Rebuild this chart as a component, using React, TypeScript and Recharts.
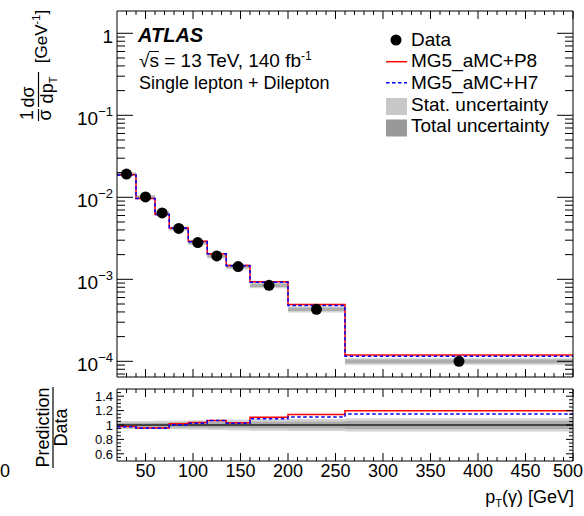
import React from 'react';
import { ComposedChart, Line, XAxis, YAxis, ReferenceArea, ReferenceLine } from 'recharts';

// photon pT bins [GeV]
const binEdges = [20, 40, 60, 75, 95, 115, 135, 160, 200, 260, 500];
const binCentres = [30, 50, 67.5, 85, 105, 125, 147.5, 180, 230, 380];
// normalised differential cross-section 1/σ dσ/dpT [GeV^-1]
const dataValues = [0.0192, 0.0101, 0.00645, 0.00417, 0.00281, 0.00193, 0.00143, 0.000845, 0.000431, 0.0001];
// prediction / data
const ratioP8 = [0.978, 0.958, 0.958, 1.016, 1.033, 1.064, 1.03, 1.106, 1.147, 1.198];
const ratioH7 = [0.975, 0.955, 0.955, 1.004, 1.024, 1.062, 1.026, 1.088, 1.11, 1.152];
// relative uncertainties of the data
const statUnc = [0.03, 0.03, 0.03, 0.035, 0.035, 0.04, 0.04, 0.045, 0.05, 0.055];
const totalUnc = [0.055, 0.055, 0.06, 0.06, 0.065, 0.07, 0.075, 0.08, 0.085, 0.09];

const xMajorTicks = [50, 100, 150, 200, 250, 300, 350, 400, 450, 500];
const ratioMajorTicks = [0.6, 0.8, 1, 1.2, 1.4];

const FONT = "'Liberation Sans', Arial, Helvetica, sans-serif";
const W = 584;
const PL = 117;
const PR = 573;
const MAIN_H = 380;
const MAIN_TOP = 11;
const MAIN_BOTTOM = 377;
const RATIO_Y0 = 380;
const RATIO_H = 136;
const RATIO_TOP = 9;
const RATIO_BOTTOM = 81;
const AX = 1; // thickness reserved for each axis

const X_DOMAIN: [number, number] = [20, 500];
const MAIN_DOMAIN: [number, number] = [6.44e-5, 1.87];
const RATIO_DOMAIN: [number, number] = [0.5, 1.5];

const n = dataValues.length;

// tick positions
const xTicks: number[] = [];
for (let v = 30; v <= 500; v += 10) xTicks.push(v);
const logTicks: number[] = [];
for (let k = -5; k <= 0; k++) {
  for (let m = 1; m <= 9; m++) {
    const v = Number((m * Math.pow(10, k)).toPrecision(6));
    if (v >= MAIN_DOMAIN[0] && v <= MAIN_DOMAIN[1]) logTicks.push(v);
  }
}
const ratioTicks: number[] = [];
for (let i = 11; i <= 29; i++) ratioTicks.push(Math.round(i * 5) / 100);

const isXMajor = (v: number) => xMajorTicks.includes(v);
const isLogMajor = (v: number) => Math.abs(Math.log10(v) - Math.round(Math.log10(v))) < 1e-6;
const isRatioMajor = (v: number) => Math.abs(v * 5 - Math.round(v * 5)) < 1e-6;

// series built from the tables above
const stepSeries = (f: (i: number) => number) =>
  binEdges.map((x, i) => ({ x, y: f(Math.min(i, n - 1)) }));
const mainP8 = stepSeries((i) => dataValues[i] * ratioP8[i]);
const mainH7 = stepSeries((i) => dataValues[i] * ratioH7[i]);
const ratioLineP8 = stepSeries((i) => ratioP8[i]);
const ratioLineH7 = stepSeries((i) => ratioH7[i]);
const points = binCentres.map((x, i) => ({ x, y: dataValues[i] }));

const BAND_OUTER = '#d2d2d2';
const BAND_INNER = '#adadad';

const makeXTick = (edge: number, dir: number, showLabel: boolean, labelY = 0) => (p: any) => {
  const v = p.payload.value;
  const major = isXMajor(v);
  const last = v === X_DOMAIN[1];
  return (
    <g>
      <line x1={p.x} x2={p.x} y1={edge} y2={edge + dir * (major ? 8 : 4)} stroke="#000" strokeWidth={1} />
      {showLabel && major ? (
        <text
          x={last ? W - 1 : p.x}
          y={labelY}
          textAnchor={last ? 'end' : 'middle'}
          fontSize={18}
          fontFamily={FONT}
          fill="#000"
        >
          {v}
        </text>
      ) : null}
    </g>
  );
};

const logLabel = (v: number) => {
  const k = Math.round(Math.log10(v));
  if (k === 0) return '1';
  return (
    <>
      10
      <tspan dy={-9} fontSize={13}>
        {'\u2212' + String(-k)}
      </tspan>
    </>
  );
};

const makeLogTick = (edge: number, dir: number, showLabel: boolean) => (p: any) => {
  const v = p.payload.value;
  const major = isLogMajor(v);
  return (
    <g>
      <line x1={edge} x2={edge + dir * (major ? 16 : 8)} y1={p.y} y2={p.y} stroke="#000" strokeWidth={1} />
      {showLabel && major ? (
        <text x={113} y={p.y + 9.5} textAnchor="end" fontSize={19} fontFamily={FONT} fill="#000">
          {logLabel(v)}
        </text>
      ) : null}
    </g>
  );
};

const makeRatioTick = (edge: number, dir: number, showLabel: boolean) => (p: any) => {
  const v = p.payload.value;
  const major = isRatioMajor(v);
  const labelled = ratioMajorTicks.some((t) => Math.abs(t - v) < 1e-6);
  return (
    <g>
      <line x1={edge} x2={edge + dir * (major ? 7 : 4)} y1={p.y} y2={p.y} stroke="#000" strokeWidth={1} />
      {showLabel && labelled ? (
        <text x={113} y={p.y + 4.7} textAnchor="end" fontSize={13} fontFamily={FONT} fill="#000">
          {Math.abs(v - 1) < 1e-6 ? '1' : v.toFixed(1)}
        </text>
      ) : null}
    </g>
  );
};

const axisLine = { stroke: '#000', strokeWidth: 1 };

function MainPanel() {
  return (
    <ComposedChart
      width={W}
      height={MAIN_H}
      margin={{
        top: MAIN_TOP - AX,
        right: W - PR - AX,
        bottom: MAIN_H - MAIN_BOTTOM - AX,
        left: PL - AX,
      }}
    >
      <XAxis
        xAxisId="b"
        dataKey="x"
        type="number"
        domain={X_DOMAIN}
        allowDataOverflow
        ticks={xTicks}
        interval={0}
        height={AX}
        tickLine={false}
        axisLine={axisLine}
        tick={makeXTick(MAIN_BOTTOM, -1, false)}
      />
      <XAxis
        xAxisId="t"
        orientation="top"
        dataKey="x"
        type="number"
        domain={X_DOMAIN}
        allowDataOverflow
        ticks={xTicks}
        interval={0}
        height={AX}
        tickLine={false}
        axisLine={axisLine}
        tick={makeXTick(MAIN_TOP, 1, false)}
      />
      <YAxis
        yAxisId="l"
        dataKey="y"
        scale="log"
        type="number"
        domain={MAIN_DOMAIN}
        allowDataOverflow
        ticks={logTicks}
        interval={0}
        width={AX}
        tickLine={false}
        axisLine={axisLine}
        tick={makeLogTick(PL, 1, true)}
      />
      <YAxis
        yAxisId="r"
        orientation="right"
        dataKey="y"
        scale="log"
        type="number"
        domain={MAIN_DOMAIN}
        allowDataOverflow
        ticks={logTicks}
        interval={0}
        width={AX}
        tickLine={false}
        axisLine={axisLine}
        tick={makeLogTick(PR, -1, false)}
      />
      {dataValues.map((v, i) => (
        <ReferenceArea
          key={'tot' + i}
          xAxisId="b"
          yAxisId="l"
          x1={binEdges[i]}
          x2={binEdges[i + 1]}
          y1={v * (1 - totalUnc[i])}
          y2={v * (1 + totalUnc[i])}
          fill={BAND_OUTER}
          fillOpacity={1}
          stroke="none"
        />
      ))}
      {dataValues.map((v, i) => (
        <ReferenceArea
          key={'stat' + i}
          xAxisId="b"
          yAxisId="l"
          x1={binEdges[i]}
          x2={binEdges[i + 1]}
          y1={v * (1 - statUnc[i])}
          y2={v * (1 + statUnc[i])}
          fill={BAND_INNER}
          fillOpacity={1}
          stroke="none"
        />
      ))}
      <Line
        xAxisId="b"
        yAxisId="l"
        data={mainP8}
        dataKey="y"
        type="stepAfter"
        stroke="#ff0000"
        strokeWidth={1.5}
        dot={false}
        activeDot={false}
        isAnimationActive={false}
      />
      <Line
        xAxisId="b"
        yAxisId="l"
        data={mainH7}
        dataKey="y"
        type="stepAfter"
        stroke="#0000ff"
        strokeWidth={1.5}
        strokeDasharray="3.5 2.5"
        dot={false}
        activeDot={false}
        isAnimationActive={false}
      />
      <Line
        xAxisId="b"
        yAxisId="l"
        data={points}
        dataKey="y"
        stroke="none"
        dot={{ r: 5.5, fill: '#000', stroke: 'none' }}
        activeDot={false}
        isAnimationActive={false}
      />
    </ComposedChart>
  );
}

function RatioPanel() {
  return (
    <ComposedChart
      width={W}
      height={RATIO_H}
      margin={{
        top: RATIO_TOP - AX,
        right: W - PR - AX,
        bottom: RATIO_H - RATIO_BOTTOM - AX,
        left: PL - AX,
      }}
    >
      <XAxis
        xAxisId="b"
        dataKey="x"
        type="number"
        domain={X_DOMAIN}
        allowDataOverflow
        ticks={xTicks}
        interval={0}
        height={AX}
        tickLine={false}
        axisLine={axisLine}
        tick={makeXTick(RATIO_BOTTOM, -1, true, RATIO_BOTTOM + 16)}
      />
      <XAxis
        xAxisId="t"
        orientation="top"
        dataKey="x"
        type="number"
        domain={X_DOMAIN}
        allowDataOverflow
        ticks={xTicks}
        interval={0}
        height={AX}
        tickLine={false}
        axisLine={axisLine}
        tick={makeXTick(RATIO_TOP, 1, false)}
      />
      <YAxis
        yAxisId="l"
        dataKey="y"
        type="number"
        domain={RATIO_DOMAIN}
        allowDataOverflow
        ticks={ratioTicks}
        interval={0}
        width={AX}
        tickLine={false}
        axisLine={axisLine}
        tick={makeRatioTick(PL, 1, true)}
      />
      <YAxis
        yAxisId="r"
        orientation="right"
        dataKey="y"
        type="number"
        domain={RATIO_DOMAIN}
        allowDataOverflow
        ticks={ratioTicks}
        interval={0}
        width={AX}
        tickLine={false}
        axisLine={axisLine}
        tick={makeRatioTick(PR, -1, false)}
      />
      {totalUnc.map((u, i) => (
        <ReferenceArea
          key={'rtot' + i}
          xAxisId="b"
          yAxisId="l"
          x1={binEdges[i]}
          x2={binEdges[i + 1]}
          y1={1 - u}
          y2={1 + u}
          fill={BAND_OUTER}
          fillOpacity={1}
          stroke="none"
        />
      ))}
      {statUnc.map((u, i) => (
        <ReferenceArea
          key={'rstat' + i}
          xAxisId="b"
          yAxisId="l"
          x1={binEdges[i]}
          x2={binEdges[i + 1]}
          y1={1 - u}
          y2={1 + u}
          fill={BAND_INNER}
          fillOpacity={1}
          stroke="none"
        />
      ))}
      <ReferenceLine xAxisId="b" yAxisId="l" y={1} stroke="#222" strokeWidth={1.5} />
      <Line
        xAxisId="b"
        yAxisId="l"
        data={ratioLineP8}
        dataKey="y"
        type="stepAfter"
        stroke="#ff0000"
        strokeWidth={1.5}
        dot={false}
        activeDot={false}
        isAnimationActive={false}
      />
      <Line
        xAxisId="b"
        yAxisId="l"
        data={ratioLineH7}
        dataKey="y"
        type="stepAfter"
        stroke="#0000ff"
        strokeWidth={1.5}
        strokeDasharray="3.5 2.5"
        dot={false}
        activeDot={false}
        isAnimationActive={false}
      />
    </ComposedChart>
  );
}

function Annotations() {
  const t = { fontFamily: FONT, fill: '#000' } as const;
  return (
    <svg
      width={W}
      height={516}
      style={{ position: 'absolute', left: 0, top: 0, pointerEvents: 'none' }}
    >
      {/* experiment label */}
      <text x={138} y={41.5} fontSize={20} fontWeight="bold" fontStyle="italic" {...t}>
        ATLAS
      </text>
      <text x={139} y={67} fontSize={19} {...t}>
        {'\u221A'}s{' = 13 TeV, 140 fb'}
        <tspan dy={-7} fontSize={12}>
          -1
        </tspan>
      </text>
      <line x1={149} x2={159} y1={51.5} y2={51.5} stroke="#000" strokeWidth={1} />
      <text x={139} y={89} fontSize={18} {...t}>
        Single lepton + Dilepton
      </text>

      {/* legend */}
      <circle cx={396} cy={40} r={5.5} fill="#000" />
      <text x={411} y={45.5} fontSize={19} {...t}>Data</text>
      <line x1={386} x2={407} y1={61.7} y2={61.7} stroke="#ff0000" strokeWidth={1.5} />
      <text x={411} y={67} fontSize={19} {...t}>MG5_aMC+P8</text>
      <line x1={386} x2={407} y1={82.7} y2={82.7} stroke="#0000ff" strokeWidth={1.5} strokeDasharray="3.5 2.5" />
      <text x={411} y={88.5} fontSize={19} {...t}>MG5_aMC+H7</text>
      <rect x={386} y={98} width={21} height={17} fill="#c8c8c8" />
      <text x={411} y={110.5} fontSize={19} {...t}>Stat. uncertainty</text>
      <rect x={386} y={119.5} width={21} height={17} fill="#999999" />
      <text x={411} y={132} fontSize={19} {...t}>Total uncertainty</text>

      {/* main y-axis title */}
      <g transform="rotate(-90)">
        <text x={-115} y={33} textAnchor="middle" fontSize={18} {...t}>1</text>
        <line x1={-121} x2={-109} y1={38.5} y2={38.5} stroke="#000" strokeWidth={1.2} />
        <text x={-115} y={51} textAnchor="middle" fontSize={18} {...t}>{'\u03C3'}</text>
        <text x={-97} y={34} textAnchor="middle" fontSize={18} {...t}>d{'\u03C3'}</text>
        <line x1={-107} x2={-72} y1={38.5} y2={38.5} stroke="#000" strokeWidth={1.2} />
        <text x={-90} y={53} textAnchor="middle" fontSize={18} {...t}>
          dp
          <tspan dy={4} fontSize={11}>T</tspan>
        </text>
        <text x={-36.5} y={47} textAnchor="middle" fontSize={17} {...t}>
          [GeV
          <tspan dy={-7} fontSize={11}>-1</tspan>
          <tspan dy={7}>]</tspan>
        </text>
      </g>

      {/* ratio y-axis title */}
      <g transform="rotate(-90)">
        <text x={-427.5} y={49} textAnchor="middle" fontSize={18} {...t}>Prediction</text>
        <line x1={-468} x2={-387} y1={53} y2={53} stroke="#000" strokeWidth={1.2} />
        <text x={-427.5} y={67} textAnchor="middle" fontSize={18} {...t}>Data</text>
      </g>

      {/* x-axis title */}
      <text x={574} y={503} textAnchor="end" fontSize={18} {...t}>
        p
        <tspan dy={4} fontSize={11}>T</tspan>
        <tspan dy={-4}>({'\u03B3'}) [GeV]</tspan>
      </text>

      <text x={5} y={477} textAnchor="middle" fontSize={18} {...t}>0</text>
    </svg>
  );
}

export default function App() {
  return (
    <div
      style={{
        position: 'absolute',
        left: 0,
        top: 0,
        width: W,
        height: 516,
        background: '#fff',
        fontFamily: FONT,
        overflow: 'hidden',
      }}
    >
      <div style={{ position: 'absolute', left: 0, top: 0 }}>
        <MainPanel />
      </div>
      <div style={{ position: 'absolute', left: 0, top: RATIO_Y0 }}>
        <RatioPanel />
      </div>
      <Annotations />
    </div>
  );
}
